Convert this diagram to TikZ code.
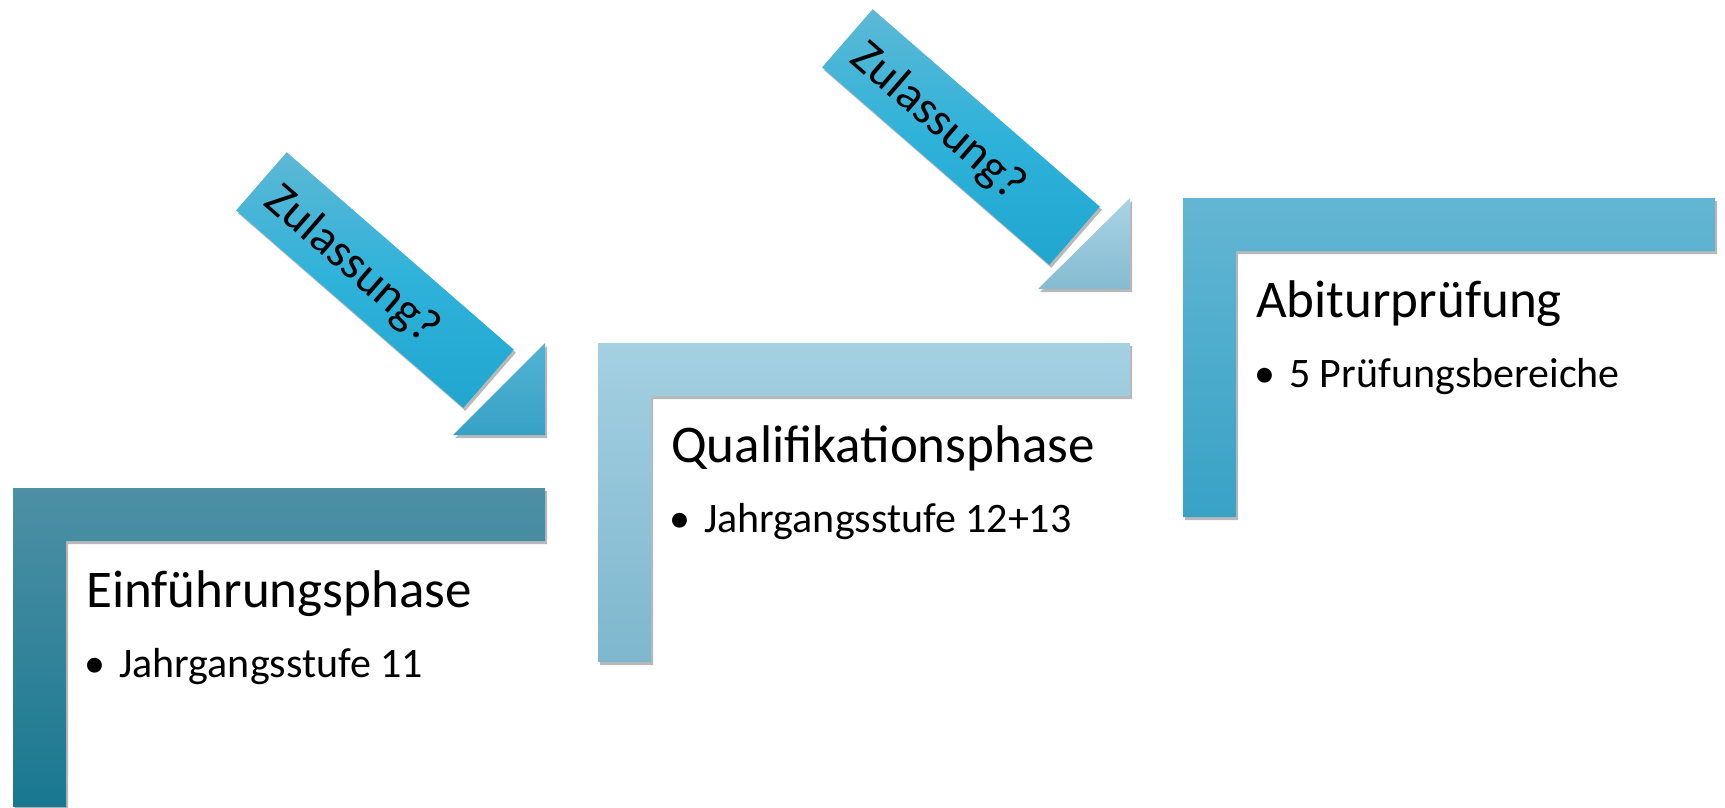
\documentclass[tikz,border=0pt]{standalone}
\usepackage{fontspec}
\setmainfont{Carlito}
\usetikzlibrary{shadows,calc}
\definecolor{sAtop}{HTML}{4E90A5}
\definecolor{sAbot}{HTML}{187890}
\definecolor{sBtop}{HTML}{A4D0E2}
\definecolor{sBbot}{HTML}{7EB7CE}
\definecolor{sCtop}{HTML}{63B6D3}
\definecolor{sCbot}{HTML}{38A2C6}
\definecolor{zTop}{HTML}{5DB8D5}
\definecolor{zMid}{HTML}{2EB2DA}
\definecolor{zBot}{HTML}{20A6CF}
\definecolor{tAtop}{HTML}{52B3D4}
\definecolor{tAbot}{HTML}{37A1C5}
\definecolor{tBtop}{HTML}{A9D3E5}
\definecolor{tBbot}{HTML}{85BBD1}
\begin{document}
\begin{tikzpicture}[x=1pt,y=-1pt,
  shadowed/.style={drop shadow={shadow xshift=2pt,shadow yshift=-3pt,opacity=0.28,fill=black}},
  titletext/.style={anchor=base west,inner sep=0pt,font=\fontsize{53}{60}\selectfont},
  itemtext/.style={anchor=base west,inner sep=0pt,font=\fontsize{42}{48}\selectfont},
  itemdot/.style={anchor=base,inner sep=0pt,font=\fontsize{42}{48}\selectfont},
  zbox/.style={rotate=-41,minimum width=301pt,minimum height=77pt,inner sep=0pt,
    top color=zTop,bottom color=zBot,middle color=zMid,shadowed},
  ztext/.style={rotate=-41,inner sep=0pt,font=\fontsize{48}{54}\selectfont}]
\useasboundingbox (0,0) rectangle (1725,807);
% L-shaped steps
\path[shadowed,top color=sAtop,bottom color=sAbot]
  (13,488) -- (545,488) -- (545,541) -- (66,541) -- (66,807) -- (13,807) -- cycle;
\path[shadowed,top color=sBtop,bottom color=sBbot]
  (598,343) -- (1130,343) -- (1130,396) -- (651,396) -- (651,662) -- (598,662) -- cycle;
\path[shadowed,top color=sCtop,bottom color=sCbot]
  (1183,198) -- (1715,198) -- (1715,251) -- (1236,251) -- (1236,517) -- (1183,517) -- cycle;
% arrows
\node[zbox] (z1) at (375,280) {};
\node[ztext] (z1t) at ([shift={(-23,-15)}]z1.center) {Zulassung?};
\path[shadowed,top color=tAtop,bottom color=tAbot]
  (545,343) -- (545,435) -- (453,435) -- cycle;
\node[zbox] (z2) at (961,137) {};
\node[ztext] (z2t) at ([shift={(-23,-15)}]z2.center) {Zulassung?};
\path[shadowed,top color=tBtop,bottom color=tBbot]
  (1130,198) -- (1130,289) -- (1038,289) -- cycle;
% texts
\node[titletext] (h1) at (86,607) {Einführungsphase};
\node[itemdot] (d1) at (95,677) {•};
\node[itemtext] (i1) at (119,677) {Jahrgangsstufe 11};
\node[titletext] (h2) at (671,462) {Qualifikationsphase};
\node[itemdot] (d2) at (680,532) {•};
\node[itemtext] (i2) at (704,532) {Jahrgangsstufe 12+13};
\node[titletext] (h3) at (1256,317) {Abiturprüfung};
\node[itemdot] (d3) at (1265,387) {•};
\node[itemtext] (i3) at (1289,387) {5 Prüfungsbereiche};
\end{tikzpicture}
\end{document}
